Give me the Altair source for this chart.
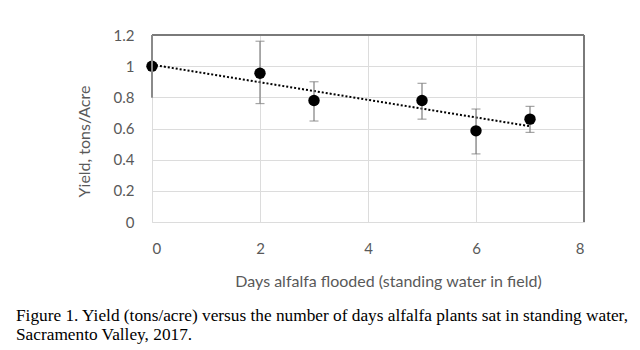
import altair as alt
import pandas as pd

days = [0, 2, 3, 5, 6, 7]
yield_vals = [1.0, 0.955, 0.78, 0.78, 0.585, 0.66]
err_low = [1.0, 0.76, 0.648, 0.66, 0.437, 0.575]
err_high = [1.0, 1.16, 0.90, 0.89, 0.725, 0.742]

x_ticks = [0, 2, 4, 6, 8]
y_ticks = [0, 0.2, 0.4, 0.6, 0.8, 1.0, 1.2]

x_title = "Days alfalfa flooded (standing water in field)"
y_title = "Yield, tons/Acre"
caption = [
    "Figure 1. Yield (tons/acre) versus the number of days alfalfa plants sat in standing water,",
    "Sacramento Valley, 2017.",
]

df = pd.DataFrame({"days": days, "yield": yield_vals, "lo": err_low, "hi": err_high})
df_err = df[df["hi"] > df["lo"]]

W, H = 432, 187
label_font = "Lato"
gray_txt = "#595959"

x_scale = alt.Scale(domain=[0, 8], nice=False)
y_scale = alt.Scale(domain=[0, 1.2], nice=False)
x_axis = alt.Axis(
    values=x_ticks, format="d", title=x_title, grid=True, gridColor="#dcdcdc",
    domain=False, ticks=False, labelPadding=19, labelFont=label_font,
    labelFontSize=15, labelColor=gray_txt, labelOverlap=False, titleFont=label_font,
    titleFontSize=16, titleColor=gray_txt, titleFontWeight="normal",
    titleX=236, titleY=51,
)
y_axis = alt.Axis(
    values=y_ticks, format=".1~f", title=y_title, grid=True, gridColor="#dcdcdc",
    domain=False, ticks=False, labelPadding=18, labelFont=label_font,
    labelFontSize=15, labelColor=gray_txt, labelOverlap=False, titleFont=label_font,
    titleFontSize=16, titleColor=gray_txt, titleFontWeight="normal",
    titleX=-68, titleY=106, titleBaseline="middle", titleAngle=270,
)

def X(field):
    return alt.X(field, scale=x_scale, axis=x_axis)

def Y(field):
    return alt.Y(field, scale=y_scale, axis=y_axis)

base = alt.Chart(df)

trend = base.transform_regression("days", "yield").mark_line(
    color="black", strokeDash=[2, 2], strokeWidth=2
).encode(x=X("days:Q"), y=Y("yield:Q"))

bars = alt.Chart(df_err).mark_rule(color="#7f7f7f", strokeWidth=1.2).encode(
    x=X("days:Q"), y=Y("lo:Q"), y2="hi:Q"
)
cap_lo = alt.Chart(df_err).mark_tick(color="#7f7f7f", orient="horizontal", size=9, thickness=1.2).encode(
    x=X("days:Q"), y=Y("lo:Q")
)
cap_hi = alt.Chart(df_err).mark_tick(color="#7f7f7f", orient="horizontal", size=9, thickness=1.2).encode(
    x=X("days:Q"), y=Y("hi:Q")
)

points = base.mark_circle(color="black", opacity=1, size=130).encode(x=X("days:Q"), y=Y("yield:Q"))

border_top = alt.Chart(df).mark_rule(color="#7a7a7a", strokeWidth=2).encode(
    x=alt.value(0), x2=alt.value(W), y=alt.value(0)
)
border_right = alt.Chart(df).mark_rule(color="#7a7a7a", strokeWidth=2).encode(
    x=alt.value(W), y=alt.value(0), y2=alt.value(H)
)
border_left = alt.Chart(df).mark_rule(color="#8a8a8a", strokeWidth=1.5).encode(
    x=alt.value(0), y=alt.value(0), y2=alt.value(H / 3)
)

chart = alt.layer(trend, bars, cap_lo, cap_hi, points, border_top, border_right, border_left).properties(
    width=W,
    height=H,
    padding={"left": 152, "top": 35, "right": 56, "bottom": 128},
    autosize=alt.AutoSizeParams(type="none"),
    title=alt.TitleParams(
        text=caption, orient="bottom", anchor="start", frame="group", dx=-136,
        offset=18, font="Liberation Serif", fontSize=17.3, fontWeight="normal",
        color="black", lineHeight=19,
    ),
).configure_view(stroke="#d0d0d0", strokeWidth=1).configure(background="white")

chart.save("out.html", embed_options={"renderer": "svg", "actions": False})
